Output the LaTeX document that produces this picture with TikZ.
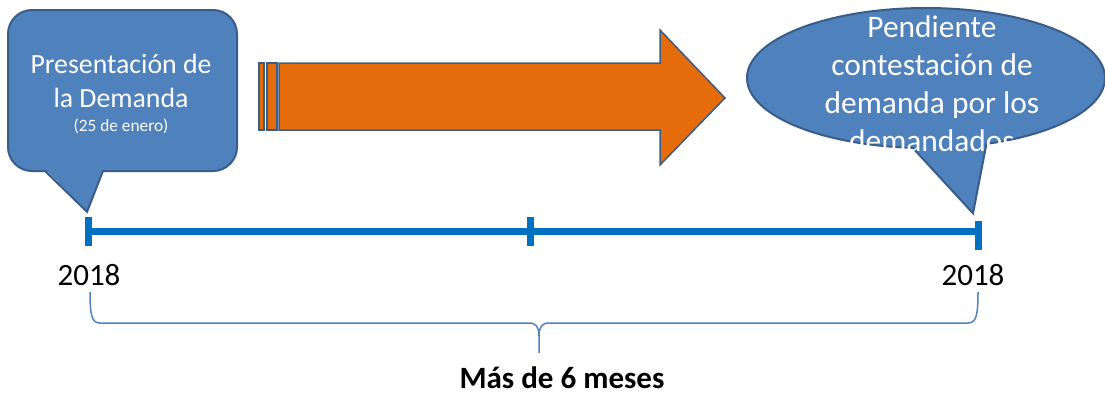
\documentclass[tikz,border=0pt]{standalone}
\usepackage{fontspec}
\setmainfont{Carlito}
\usetikzlibrary{calc, shapes.callouts}

\definecolor{bubblefill}{HTML}{4F81BD}
\definecolor{bubbleline}{HTML}{385D8A}
\definecolor{lineblue}{HTML}{0070C0}
\definecolor{arroworange}{HTML}{E46C0A}

\begin{document}
\begin{tikzpicture}[x=1pt, y=-1pt,
bubble/.style={fill=bubblefill, draw=bubbleline, line width=2pt},
tickmark/.style={fill=lineblue, inner sep=0pt, minimum width=7pt, minimum height=29pt},
yeartxt/.style={font=\fontsize{31}{37}\selectfont, anchor=base},
arrowpart/.style={fill=arroworange, draw=bubbleline, line width=1.5pt},
bracket/.style={draw=bubblefill, line width=1.5pt}]

\useasboundingbox (0,0) rectangle (1105,394);

% timeline with three marks
\node[tickmark] (t0) at (88,231.5) {};
\node[tickmark] (t1) at (530,231.5) {};
\node[tickmark] (t2) at (978,235) {};
\draw[lineblue, line width=7pt] (t0.center) -- (t0.center -| t2.center);

% left callout: rounded box + pointer
\node[bubble, rounded corners=24pt, minimum width=229pt, minimum height=161pt] (presbox) at (122.5,90.5) {};
\fill[bubblefill] (45,169) -- ($(t0.north)+(-1,-5)$) -- (103,169) -- cycle; % hides the border
\draw[bubbleline, line width=2pt] (45,171) -- ($(t0.north)+(-1,-5)$) -- (103,171);
\node[text=white, align=center, font=\fontsize{27.8}{34}\selectfont, anchor=base] (pres) at (121,107) {Presentación de\\la Demanda}; % base = last line
\node[text=white, font=\fontsize{17.3}{20}\selectfont, anchor=base] (fecha) at (121,131) {(25 de enero)};

% orange arrow
\draw[arrowpart] (259,63) rectangle (264,130);
\draw[arrowpart] (267,63) rectangle (277,130);
\draw[arrowpart] (279,63) -- (660,63) -- (660,30) -- (725,98) -- (660,165) -- (660,130) -- (279,130) -- cycle;

% right callout
\node[bubble, ellipse callout, inner sep=0pt, minimum width=358pt, minimum height=140pt, callout pointer arc=24,
callout absolute pointer={($(t2.north)+(-5,-7)$)}] (pend) at (926,78) {};
\node[text=white, align=center, font=\fontsize{31.4}{38}\selectfont, anchor=base] (pendtxt) at (932,151) {Pendiente\\contestación de\\demanda por los\\demandados};

% years
\node[yeartxt] (y0) at (89,285) {2018};
\node[yeartxt] (y2) at (973,285) {2018};

% brace under the years
\coordinate (bl) at (90,292);
\coordinate (br) at (978,292);
\coordinate (bm) at (539,353);
\draw[bracket] (bl) .. controls (90,316) and (92,323) .. (100,323) -- (529,323) .. controls (536,323) and (539,327) .. (539,336) -- (bm);
\draw[bracket] (br) .. controls (978,316) and (976,323) .. (968,323) -- (549,323) .. controls (542,323) and (539,327) .. (539,336);
\node[font=\bfseries\fontsize{31}{37}\selectfont, anchor=base] (dur) at (562,388) {Más de 6 meses};

\end{tikzpicture}
\end{document}
